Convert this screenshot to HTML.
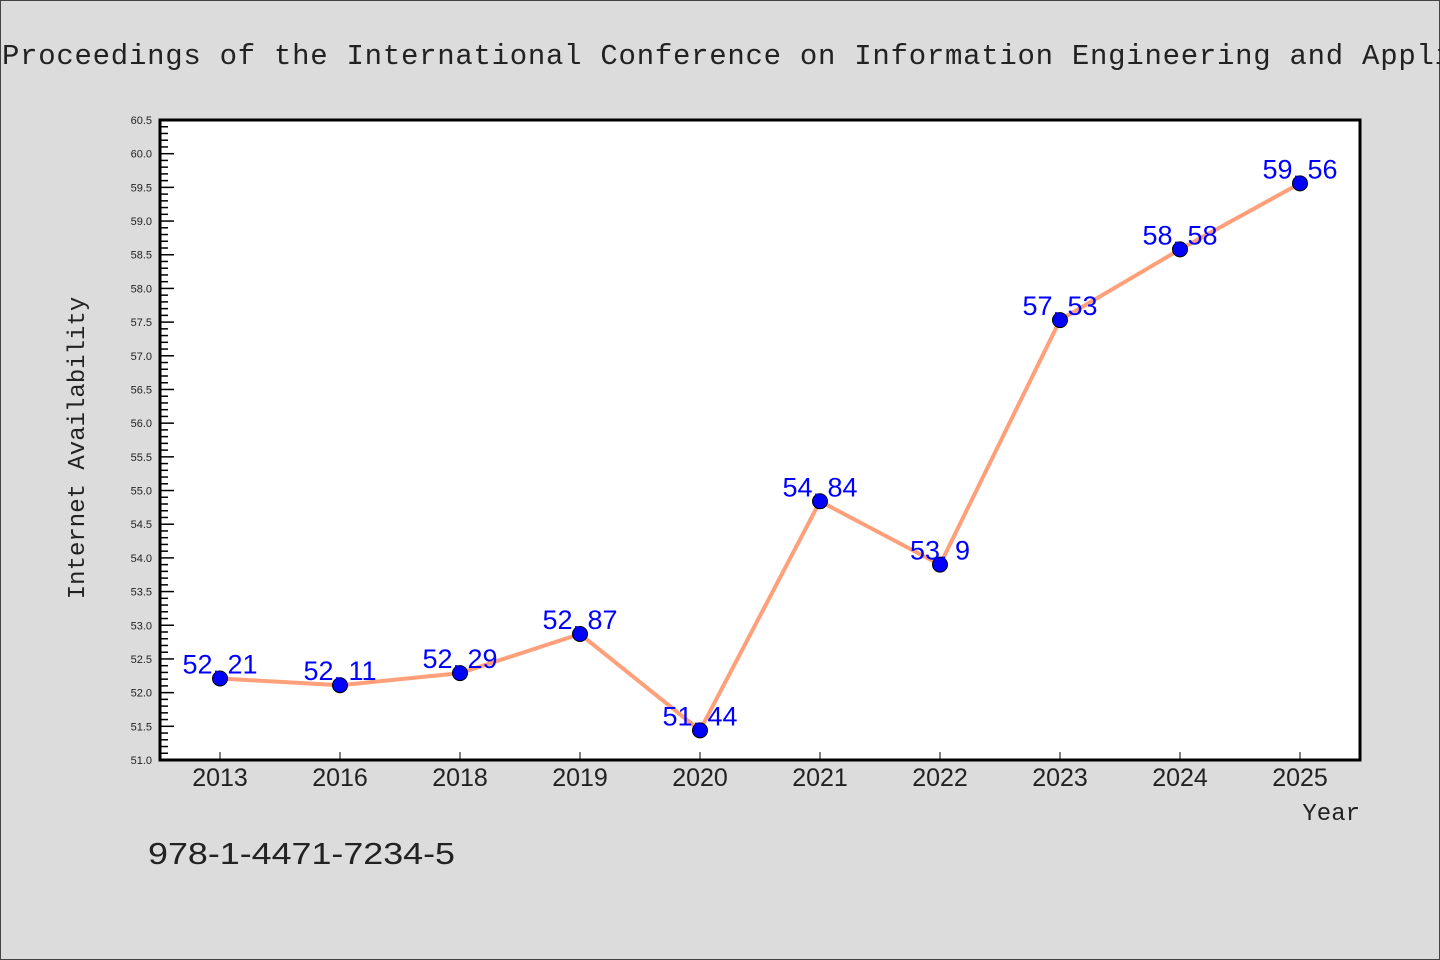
<!DOCTYPE html>
<html><head><meta charset="utf-8"><style>
html,body{margin:0;padding:0;background:#dcdcdc;}
body{width:1440px;height:960px;overflow:hidden;}
svg{display:block;}
</style></head><body>
<svg id="chart" width="1440" height="960" xmlns="http://www.w3.org/2000/svg">
<rect x="0.5" y="0.5" width="1439" height="959" fill="#dcdcdc" stroke="#444" stroke-width="1"/>
<text x="2" y="64" font-family="'Liberation Mono','DejaVu Sans Mono',monospace" font-size="29" textLength="1450" lengthAdjust="spacing" fill="#222">Proceedings of the International Conference on Information Engineering and Appli</text>
<rect x="160" y="120" width="1200" height="640" fill="#fff"/>
<g id="ticks"></g>
<g id="series"></g>
<rect x="160" y="120" width="1200" height="640" fill="none" stroke="#000" stroke-width="3"/>
<text transform="translate(84,448) rotate(-90)" text-anchor="middle" font-family="'Liberation Mono','DejaVu Sans Mono',monospace" font-size="24" fill="#222">Internet Availability</text>
<text x="1360" y="820" text-anchor="end" font-family="'Liberation Mono','DejaVu Sans Mono',monospace" font-size="24" fill="#222">Year</text>
<text x="148" y="864" font-family="'WenQuanYi Zen Hei','Liberation Sans',sans-serif" font-size="31" textLength="307" lengthAdjust="spacingAndGlyphs" fill="#222">978-1-4471-7234-5</text>
</svg>
<script>
const categories = ["2013","2016","2018","2019","2020","2021","2022","2023","2024","2025"];
const values = [52.21,52.11,52.29,52.87,51.44,54.84,53.9,57.53,58.58,59.56];
const yTickLabels = ["51.0","51.5","52.0","52.5","53.0","53.5","54.0","54.5","55.0","55.5","56.0","56.5","57.0","57.5","58.0","58.5","59.0","59.5","60.0","60.5"];
(function(){
const NS="http://www.w3.org/2000/svg";
const yMin=51.0,yMax=60.5,plotTop=120,plotBot=760,plotLeft=160;
function yScale(v){return plotBot-(v-yMin)/(yMax-yMin)*(plotBot-plotTop);}
function xScale(i){return 220+i*120;}
function mk(t,a,p){const e=document.createElementNS(NS,t);for(const k in a)e.setAttribute(k,a[k]);p.appendChild(e);return e;}
const tg=document.getElementById('ticks');
for(let k=0;k<=95;k++){
  const v=yMin+k*0.1,y=yScale(v),major=k%5===0;
  const l=mk('line',{x1:plotLeft,x2:plotLeft+(major?14:8),y1:y,y2:y,stroke:'#000','stroke-width':1.5},tg);
  
  
}
yTickLabels.forEach(s=>{
  const t=mk('text',{x:152,y:yScale(parseFloat(s))+4,'text-anchor':'end','font-family':"'Liberation Sans','DejaVu Sans',sans-serif",'font-size':11,fill:'#222'},tg);
  t.textContent=s;
  
  
});
categories.forEach((c,i)=>{
  const x=xScale(i);
  const l=mk('line',{x1:x,x2:x,y1:plotBot,y2:plotBot-8,stroke:'#000','stroke-width':1},tg);
  
  
  const t=mk('text',{x:x,y:786,'text-anchor':'middle','font-family':"'WenQuanYi Zen Hei','Liberation Sans',sans-serif",'font-size':25,fill:'#222'},tg);
  t.textContent=c;
  
  
});
const sg=document.getElementById('series');
const pl=mk('polyline',{points:values.map((v,i)=>xScale(i)+','+yScale(v)).join(' '),fill:'none',stroke:'#ffa07a','stroke-width':4},sg);


values.forEach((v,i)=>{
  const c=mk('circle',{cx:xScale(i),cy:yScale(v),r:7.5,fill:'#0000ff',stroke:'#000','stroke-width':1},sg);
  
  
});
values.forEach((v,i)=>{
  const t=mk('text',{x:xScale(i),y:yScale(v)-5,'text-anchor':'middle','font-family':"'WenQuanYi Zen Hei','Liberation Sans',sans-serif",'font-size':27,fill:'#0000ff'},sg);
  t.textContent=String(v).replace('.',', ');
  
  
});
})();
</script>
</body></html>
